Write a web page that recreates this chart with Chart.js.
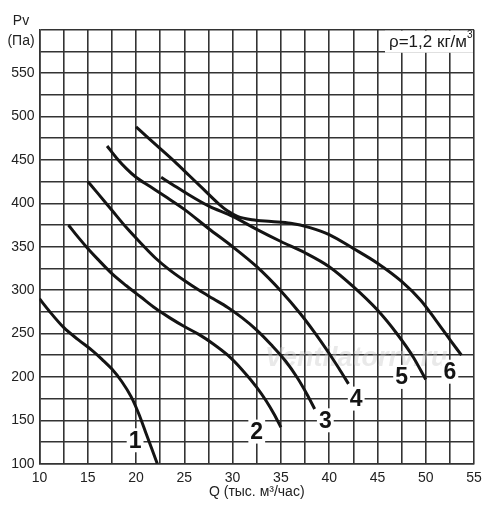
<!DOCTYPE html>
<html><head><meta charset="utf-8">
<script src="https://cdn.jsdelivr.net/npm/chart.js@4.4.0/dist/chart.umd.min.js"></script>
<style>html,body{margin:0;padding:0;background:#fff}</style>
</head><body>
<canvas id="c" width="500" height="518"></canvas>
<script>
// Curve data: Q (thousand m3/h) and Pv (Pa)
const q1 = [10, 11, 12.5, 14, 15.5, 16.5, 17.5, 18.5, 19.5, 20.3, 21, 21.6, 22.2];
const p1 = [290, 276, 257, 243, 230, 220, 209, 195, 177, 157, 136, 118, 100];
const q2 = [13, 14, 15, 16, 17.5, 19, 20.5, 22, 23.5, 25, 26.5, 28, 29.5, 31, 32.5, 33.5, 34.3, 35];
const p2 = [375, 361, 348, 336, 319, 305, 292, 279, 268, 258, 249, 238, 225, 208, 188, 172, 157, 142];
const q3 = [15, 16, 17.5, 19, 20.5, 22, 23.5, 25, 26.5, 28, 29.5, 31, 32.5, 34, 35.5, 36.7, 37.7, 38.5];
const p3 = [425, 412, 392, 372, 354, 337, 323, 311, 300, 290, 280, 268, 254, 237, 218, 199, 180, 163];
const q4 = [17, 18, 19, 20, 21.5, 23, 25, 27.5, 30, 32.5, 35, 37, 38.5, 40, 41, 42];
const p4 = [466, 452, 440, 430, 419, 408, 393, 371, 350, 327, 299, 273, 251, 227, 210, 192];
const q5 = [22.6, 24, 25, 27.5, 30, 32.5, 35, 37.5, 40, 42.5, 45, 47, 48.7, 50];
const p5 = [430, 420, 413, 397, 385, 370, 356, 343, 327, 304, 277, 250, 223, 197];
const q6 = [20, 21, 22.5, 24, 25.5, 27, 28.5, 29.5, 30.5, 32, 34, 36, 38, 40, 42.5, 45, 47.5, 49.5, 51, 52.5, 53.7];
const p6 = [488, 478, 463, 448, 432, 416, 400, 391, 385, 381, 379, 377, 372, 364, 348, 331, 310, 288, 266, 243, 225];

const curveNames = ['1', '2', '3', '4', '5', '6'];
const labelQ = [19.9, 32.5, 39.6, 42.8, 47.5, 52.5];
const labelP = [127, 137, 150, 175, 200, 206];

const qSeries = [q1, q2, q3, q4, q5, q6];
const pSeries = [p1, p2, p3, p4, p5, p6];

const datasets = qSeries.map((qs, i) => ({
  label: curveNames[i],
  data: qs.map((q, j) => ({x: q, y: pSeries[i][j]})),
  borderColor: '#141414',
  borderWidth: 3,
  pointRadius: 0,
  fill: false,
  cubicInterpolationMode: 'monotone'
}));

const gridColor = '#333333';
const FONT = '"Liberation Sans", Arial, sans-serif';

const decor = {
  id: 'decor',
  beforeDatasetsDraw(chart) {
    const {ctx, chartArea: a, scales: {x, y}} = chart;
    ctx.save();
    // watermark
    ctx.font = 'italic bold 27px ' + FONT;
    ctx.fillStyle = 'rgba(200,200,200,0.4)';
    ctx.textAlign = 'center';
    ctx.textBaseline = 'middle';
    ctx.fillText('Ventilatorry.ru', x.getPixelForValue(42.8), y.getPixelForValue(221));
    // density box
    ctx.fillStyle = '#fff';
    ctx.fillRect(385, a.top + 1, a.right - 386, 22);
    ctx.fillStyle = '#1a1a1a';
    ctx.font = '17px ' + FONT;
    ctx.textAlign = 'right';
    ctx.textBaseline = 'middle';
    ctx.fillText('ρ=1,2 кг/м', a.right - 7, a.top + 13);
    ctx.font = '10px ' + FONT;
    ctx.textAlign = 'left';
    ctx.fillText('3', a.right - 7, a.top + 6);
    // curve labels
    ctx.font = 'bold 23px "Liberation Sans Narrow", ' + FONT;
    ctx.textAlign = 'center';
    ctx.textBaseline = 'middle';
    curveNames.forEach((n, i) => {
      const px = x.getPixelForValue(labelQ[i]);
      const py = y.getPixelForValue(labelP[i]);
      const w = ctx.measureText(n).width + 4;
      ctx.fillStyle = '#fff';
      ctx.fillRect(px - w / 2, py - 12, w, 24);
      ctx.fillStyle = '#141414';
      ctx.fillText(n, px, py + 1);
    });
    ctx.restore();
  },
  afterDraw(chart) {
    const {ctx} = chart;
    ctx.save();
    ctx.fillStyle = '#222';
    ctx.font = '14px ' + FONT;
    ctx.textAlign = 'center';
    ctx.textBaseline = 'middle';
    ctx.fillText('Pv', 21, 21);
    ctx.fillText('(Па)', 21, 41);
    ctx.restore();
  }
};

new Chart(document.getElementById('c'), {
  type: 'line',
  data: {datasets},
  options: {
    responsive: false,
    animation: false,
    devicePixelRatio: 1,
    layout: {padding: {top: 29.7, right: 26, left: 0, bottom: 0}},
    plugins: {legend: {display: false}, tooltip: {enabled: false}},
    scales: {
      x: {
        type: 'linear', min: 10, max: 55,
        afterFit(s) { s.height = 54.3; },
        grid: {color: gridColor, lineWidth: 1.6, drawTicks: false},
        border: {color: gridColor, width: 1.6},
        ticks: {
          stepSize: 2.5, autoSkip: false, maxRotation: 0, padding: 6,
          color: '#222', font: {family: FONT, size: 14},
          callback: v => (v % 5 === 0 ? v : '')
        },
        title: {display: true, text: 'Q (тыс. м³/час)', color: '#222',
          font: {family: FONT, size: 14}, padding: {top: 0, bottom: 17}}
      },
      y: {
        type: 'linear', min: 100, max: 600,
        afterFit(s) { s.width = 39.5; },
        grid: {color: gridColor, lineWidth: 1.6, drawTicks: false},
        border: {color: gridColor, width: 1.6},
        ticks: {
          stepSize: 25, autoSkip: false, padding: 5,
          color: '#222', font: {family: FONT, size: 14},
          callback: v => (v % 50 === 0 && v < 600 ? v : '')
        }
      }
    }
  },
  plugins: [decor]
});
</script>
</body></html>
